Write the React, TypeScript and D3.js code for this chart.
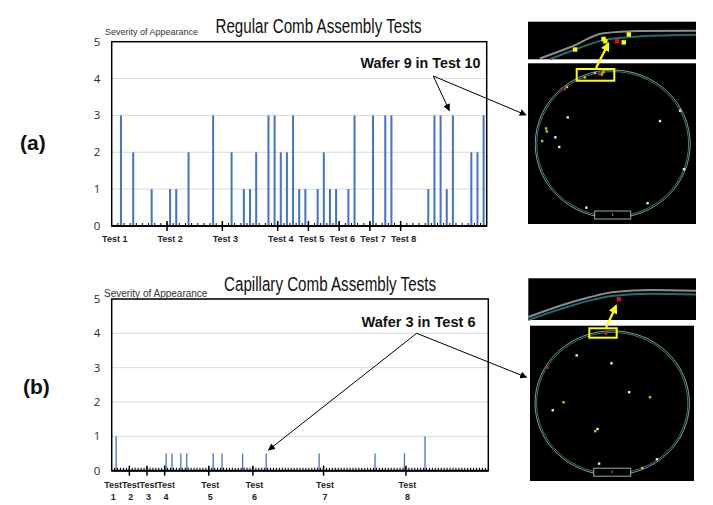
import React from 'react';
import * as d3 from 'd3';

// ---------- DATA ----------
// Regular comb assembly: severity per wafer slot (61 slots)
const regularValues = [
  0, 3, 0, 2, 0, 0, 1, 0, 0,
  1, 1, 0, 2, 0, 0, 0, 3, 0,
  0, 2, 0, 1, 1, 2, 0, 3, 3,
  2, 2, 3, 1, 1,
  0, 1, 2, 1, 1,
  0, 1, 3, 0, 0,
  3, 0, 3, 3, 0,
  0, 0, 0, 0, 1, 3, 3, 1, 3, 0, 0, 2, 2, 3,
];
const regularGroupSizes = [9, 9, 9, 5, 5, 5, 5, 14];
const regularGroupLabels = ['Test 1', 'Test 2', 'Test 3', 'Test 4', 'Test 5', 'Test 6', 'Test 7', 'Test 8'];

// Capillary comb assembly: severity per wafer slot (128 slots)
const capillaryValues = [
  0, 1, 0, 0, 0, 0, 0, 0, 0, 0, 0, 0, 0, 0, 0, 0,
  0, 0, 0.5, 0, 0.5, 0, 0, 0.5, 0, 0.5, 0, 0, 0, 0, 0, 0,
  0, 0, 0.5, 0, 0, 0.5, 0, 0, 0, 0, 0, 0, 0.5, 0, 0, 0,
  0, 0, 0, 0, 0.5, 0, 0, 0, 0, 0, 0, 0, 0, 0, 0, 0,
  0, 0, 0, 0, 0, 0, 0.5, 0, 0, 0, 0, 0, 0, 0, 0, 0,
  0, 0, 0, 0, 0, 0, 0, 0, 0, 0.5, 0, 0, 0, 0, 0, 0,
  0, 0, 0, 0.5, 0, 0, 0, 0, 0, 0, 1, 0, 0, 0, 0, 0,
  0, 0, 0, 0, 0, 0, 0, 0, 0, 0, 0, 0, 0, 0, 0, 0,
];
const capillaryGroupSizes = [6, 6, 6, 15, 15, 24, 28, 28];
const capillaryGroupLabels = ['1', '2', '3', '4', '5', '6', '7', '8'];

const yTicks = [0, 1, 2, 3, 4, 5];

// Wafer defect maps, normalized wafer coords (-1..1)
const waferAWhite = [[-0.58, -0.36], [0.61, -0.31], [0.87, -0.45], [-0.74, -0.09], [-0.69, 0.04], [0.92, 0.34], [-0.34, 0.86], [0.45, 0.8]];
const waferAYellow = [[-0.86, -0.21], [-0.85, -0.17], [-0.91, -0.04], [-0.59, -0.77], [-0.36, -0.9], [-0.23, -0.96], [-0.14, -0.94], [-0.12, -0.97]];
const waferARed = [[-0.62, -0.74], [-0.17, -0.94]];
const waferBWhite = [[-0.46, -0.66], [-0.01, -0.55], [0.22, -0.15], [-0.77, 0.1], [-0.19, 0.36], [-0.17, 0.84], [0.58, 0.78]];
const waferBYellow = [[-0.63, -0.01], [0.49, -0.08], [-0.22, 0.39], [0.39, 0.9]];
const waferBRed = [[-0.08, -0.96], [-0.84, -0.49]];

// Zoomed edge insets, normalized (0..1) within the inset box
const insetAEdgeGray = [[0.07, 0.98], [0.25, 0.68], [0.45, 0.31], [0.67, 0.25], [1, 0.24]];
const insetAEdgeTeal = [[0.13, 1.0], [0.28, 0.74], [0.45, 0.49], [0.67, 0.39], [1, 0.35]];
const insetAYellow = [[0.28, 0.74], [0.45, 0.46], [0.46, 0.52], [0.57, 0.55], [0.6, 0.34]];
const insetARed = [[0.53, 0.52]];
const insetBEdgeGray = [[0.0, 0.93], [0.19, 0.66], [0.37, 0.45], [0.51, 0.33], [0.73, 0.28], [1, 0.3]];
const insetBEdgeTeal = [[0.0, 1.0], [0.19, 0.74], [0.37, 0.53], [0.51, 0.42], [0.73, 0.37], [1, 0.39]];
const insetBRed = [[0.54, 0.5]];

// ---------- COMPONENTS ----------
type PanelProps = {
  values: number[]; groupSizes: number[]; labels: string[]; twoLine: boolean;
  left: number; right: number; top: number; bottom: number; barWidth: number;
  title: string; titleX: number; titleY: number; titleLen: number;
  sevX: number; sevY: number; sevSize: number;
};

function BarPanel(p: PanelProps) {
  const x = d3.scaleBand<number>().domain(d3.range(p.values.length)).range([p.left, p.right]).padding(0);
  const y = d3.scaleLinear().domain([0, 5]).range([p.bottom, p.top]);
  const bw = x.bandwidth();
  const cum = d3.cumsum(p.groupSizes);
  const starts = [0, ...Array.from(cum).slice(0, -1)];
  return (
    <g>
      {yTicks.map(t => (
        <line key={'g' + t} x1={p.left} x2={p.right} y1={y(t)} y2={y(t)} stroke="#d9d9d9" strokeWidth={1} />
      ))}
      {yTicks.map(t => (
        <text key={'yl' + t} x={97} y={y(t)} dy="0.35em" textAnchor="middle" fontSize={11.5}
          fontFamily="'Open Sans', sans-serif" fill="#2b2b2b">{t}</text>
      ))}
      {p.values.map((v, i) => v > 0 ? (
        <rect key={'b' + i} x={(x(i) as number) + bw / 2 - p.barWidth / 2} y={y(v)} width={p.barWidth}
          height={y(0) - y(v)} fill="#4472C4" />
      ) : null)}
      <rect x={p.left} y={p.top} width={p.right - p.left} height={p.bottom - p.top} fill="none" stroke="#000" strokeWidth={1.5} />
      <line x1={p.left} x2={p.right} y1={p.bottom} y2={p.bottom} stroke="#000" strokeWidth={2} />
      {d3.range(1, p.values.length).map(i => (
        <line key={'mt' + i} x1={x(i) as number} x2={x(i) as number} y1={p.bottom - 3} y2={p.bottom} stroke="#000" strokeWidth={1} />
      ))}
      {starts.slice(1).map(s => (
        <line key={'Mt' + s} x1={x(s) as number} x2={x(s) as number} y1={p.bottom - 5} y2={p.bottom + 5} stroke="#000" strokeWidth={1.5} />
      ))}
      {p.labels.map((lab, k) => {
        const cx = (x(starts[k]) as number) + bw / 2;
        return p.twoLine ? (
          <g key={'xl' + k}>
            <text x={cx} y={p.bottom + 17} textAnchor="middle" fontSize={9} fontWeight="bold"
              fontFamily="'Liberation Sans', Arial, sans-serif" fill="#1f1f2a">Test</text>
            <text x={cx} y={p.bottom + 29} textAnchor="middle" fontSize={9} fontWeight="bold"
              fontFamily="'Liberation Sans', Arial, sans-serif" fill="#1f1f2a">{lab}</text>
          </g>
        ) : (
          <text key={'xl' + k} x={cx} y={p.bottom + 16} textAnchor="middle" fontSize={9} fontWeight="bold"
            fontFamily="'Liberation Sans', Arial, sans-serif" fill="#1f1f2a">{lab}</text>
        );
      })}
      <text x={p.sevX} y={p.sevY} fontSize={p.sevSize} fontFamily="'Liberation Sans', Arial, sans-serif" fill="#333">Severity of Appearance</text>
      <text x={p.titleX} y={p.titleY} fontSize={19.5} textLength={p.titleLen} lengthAdjust="spacingAndGlyphs"
        fontFamily="'Liberation Sans', Arial, sans-serif" fill="#111">{p.title}</text>
    </g>
  );
}

type WaferProps = {
  px: number; py: number; pw: number; ph: number; cx: number; cy: number; rx: number; ry: number;
  white: number[][]; yellow: number[][]; red: number[][];
  notchW: number;
};

function Wafer(w: WaferProps) {
  const sx = d3.scaleLinear().domain([-1, 1]).range([w.cx - w.rx, w.cx + w.rx]);
  const sy = d3.scaleLinear().domain([-1, 1]).range([w.cy - w.ry, w.cy + w.ry]);
  return (
    <g>
      <rect x={w.px} y={w.py} width={w.pw} height={w.ph} fill="#000" />
      <ellipse cx={w.cx} cy={w.cy} rx={w.rx} ry={w.ry} fill="none" stroke="#8a9a9a" strokeWidth={1} />
      <ellipse cx={w.cx} cy={w.cy} rx={w.rx - 1.6} ry={w.ry - 1.6} fill="none" stroke="#2e7d7d" strokeWidth={1} />
      <rect x={w.cx - w.notchW / 2} y={w.cy + w.ry - 7} width={w.notchW} height={8} fill="#000" stroke="#9aa" strokeWidth={1} />
      <line x1={w.cx} x2={w.cx} y1={w.cy + w.ry - 5} y2={w.cy + w.ry - 2} stroke="#9aa" strokeWidth={0.8} />
      {w.white.map((d, i) => <rect key={'w' + i} x={sx(d[0]) - 1.2} y={sy(d[1]) - 1.2} width={2.4} height={2.4} fill="#e8e8e8" />)}
      {w.yellow.map((d, i) => <rect key={'y' + i} x={sx(d[0]) - 1.2} y={sy(d[1]) - 1.2} width={2.4} height={2.4} fill="#c8c020" />)}
      {w.red.map((d, i) => <rect key={'r' + i} x={sx(d[0]) - 1.2} y={sy(d[1]) - 1.2} width={2.4} height={2.4} fill="#e02020" />)}
    </g>
  );
}

type InsetProps = {
  x: number; y: number; w: number; h: number;
  gray: number[][]; teal: number[][]; yellow: number[][]; red: number[][]; blur?: boolean;
};

function Inset(s: InsetProps) {
  const sx = d3.scaleLinear().domain([0, 1]).range([s.x, s.x + s.w]);
  const sy = d3.scaleLinear().domain([0, 1]).range([s.y, s.y + s.h]);
  const line = d3.line<number[]>().x(d => sx(d[0])).y(d => sy(d[1])).curve(d3.curveMonotoneX);
  return (
    <g>
      <rect x={s.x} y={s.y} width={s.w} height={s.h} fill="#000" />
      <path d={line(s.gray) || ''} fill="none" stroke="#8c8c8c" strokeWidth={2} />
      <path d={line(s.teal) || ''} fill="none" stroke="#1f6f70" strokeWidth={2} />
      {s.yellow.map((d, i) => <rect key={'y' + i} x={sx(d[0]) - 2.2} y={sy(d[1]) - 2.2} width={4.4} height={4.4} fill="#ffff00" />)}
      {s.red.map((d, i) => <rect key={'r' + i} x={sx(d[0]) - 2.2} y={sy(d[1]) - 2.2} width={4.4} height={4.4}
        fill={s.blur ? '#d02040' : '#ff0000'} opacity={s.blur ? 0.85 : 1} />)}
    </g>
  );
}

export default function App() {
  return (
    <svg width={713} height={505} viewBox="0 0 713 505" style={{ position: 'absolute', left: 0, top: 0, background: '#fff' }}>
      <defs>
        <marker id="ah" viewBox="0 0 10 10" refX={9} refY={5} markerWidth={7} markerHeight={7} orient="auto-start-reverse" markerUnits="userSpaceOnUse">
          <path d="M0,0 L10,5 L0,10 z" fill="#000" />
        </marker>
        <marker id="ahy" viewBox="0 0 10 10" refX={8} refY={5} markerWidth={9} markerHeight={9} orient="auto" markerUnits="userSpaceOnUse">
          <path d="M0,0 L10,5 L0,10 z" fill="#ffff00" />
        </marker>
      </defs>
      <rect x={0} y={0} width={713} height={505} fill="#fff" />

      <text x={20} y={150} fontSize={21} fontWeight="bold" fontFamily="'Liberation Sans', Arial, sans-serif" fill="#111">(a)</text>
      <text x={23} y={394} fontSize={21} fontWeight="bold" fontFamily="'Liberation Sans', Arial, sans-serif" fill="#111">(b)</text>

      <BarPanel values={regularValues} groupSizes={regularGroupSizes} labels={regularGroupLabels} twoLine={false}
        left={111.7} right={486.7} top={41.7} bottom={226} barWidth={2}
        title="Regular Comb Assembly Tests" titleX={215.5} titleY={33} titleLen={206}
        sevX={105} sevY={35} sevSize={9} />
      <BarPanel values={capillaryValues} groupSizes={capillaryGroupSizes} labels={capillaryGroupLabels} twoLine={true}
        left={111.7} right={488.3} top={299} bottom={470.7} barWidth={1.3}
        title="Capillary Comb Assembly Tests" titleX={224} titleY={291} titleLen={212}
        sevX={104} sevY={297} sevSize={10} />

      {/* annotations */}
      <text x={360.5} y={68} fontSize={14.5} fontWeight="bold" textLength={120} lengthAdjust="spacingAndGlyphs"
        fontFamily="'Liberation Sans', Arial, sans-serif" fill="#111">Wafer 9 in Test 10</text>
      <line x1={433.3} y1={76} x2={449.3} y2={110.5} stroke="#000" strokeWidth={1} markerEnd="url(#ah)" />
      <line x1={433.3} y1={76} x2={526} y2={115} stroke="#000" strokeWidth={1} markerEnd="url(#ah)" />

      <text x={361.5} y={326.5} fontSize={14.5} fontWeight="bold" textLength={114} lengthAdjust="spacingAndGlyphs"
        fontFamily="'Liberation Sans', Arial, sans-serif" fill="#111">Wafer 3 in Test 6</text>
      <line x1={416.7} y1={333.3} x2={268.5} y2={450} stroke="#000" strokeWidth={1} markerEnd="url(#ah)" />
      <line x1={416.7} y1={333.3} x2={526.5} y2={377.3} stroke="#000" strokeWidth={1} markerEnd="url(#ah)" />

      {/* wafer (a) */}
      <Inset x={528} y={21.7} w={168} h={37.6} gray={insetAEdgeGray} teal={insetAEdgeTeal} yellow={insetAYellow} red={insetARed} />
      <Wafer px={528} py={63.3} pw={168} ph={160.7} cx={612.7} cy={144} rx={77.5} ry={74}
        white={waferAWhite} yellow={waferAYellow} red={waferARed} notchW={36} />
      <rect x={576.7} y={69} width={37.6} height={11.7} fill="none" stroke="#ffff00" strokeWidth={2} />
      <line x1={596} y1={68} x2={608.3} y2={43.5} stroke="#ffff00" strokeWidth={2.2} markerEnd="url(#ahy)" />

      {/* wafer (b) */}
      <Inset x={528.3} y={278.3} w={167.7} h={41.7} gray={insetBEdgeGray} teal={insetBEdgeTeal} yellow={[]} red={insetBRed} blur={true} />
      <Wafer px={530} py={325.7} pw={164} ph={155.3} cx={612.2} cy={403} rx={77.2} ry={72.2}
        white={waferBWhite} yellow={waferBYellow} red={waferBRed} notchW={37} />
      <rect x={589.3} y={328.3} width={27.4} height={9.4} fill="none" stroke="#ffff00" strokeWidth={2} />
      <line x1={606} y1={327.7} x2={616} y2={306} stroke="#ffff00" strokeWidth={2.2} markerEnd="url(#ahy)" />
    </svg>
  );
}
